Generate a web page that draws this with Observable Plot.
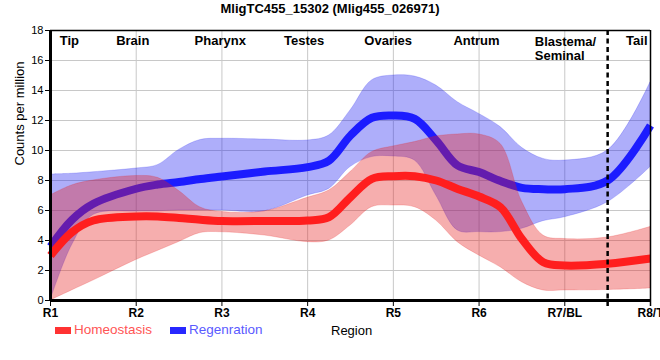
<!DOCTYPE html>
<html>
<head>
<meta charset="utf-8">
<script src="https://cdn.jsdelivr.net/npm/d3@7"></script>
<script src="https://cdn.jsdelivr.net/npm/@observablehq/plot@0.6"></script>
<style>
  html, body { margin: 0; padding: 0; background: #fff; }
  #wrap { position: relative; width: 660px; height: 360px; font-family: "Liberation Sans", Arial, sans-serif; overflow: hidden; }
  #title { position: absolute; left: 0; top: 1px; width: 660px; text-align: center; font-weight: bold; font-size: 13px; line-height: 15px; color: #000; }
  .sw { position: absolute; width: 16px; height: 7px; }
  .lg { position: absolute; font-size: 13.5px; line-height: 16px; white-space: nowrap; }
</style>
</head>
<body>
<div id="wrap">
  <div id="chart"></div>
  <div id="title">MligTC455_15302 (Mlig455_026971)</div>
  <div class="sw" style="left:55px;top:327px;background:rgb(255,50,50)"></div>
  <div class="lg" style="left:74px;top:322px;color:rgb(255,85,85)">Homeostasis</div>
  <div class="sw" style="left:170px;top:327px;background:rgb(40,40,255)"></div>
  <div class="lg" style="left:189px;top:322px;color:rgb(90,90,255)">Regenration</div>
  <div class="lg" style="left:331px;top:323px;color:#000;font-size:13px">Region</div>
</div>
<script>
// Tick labels for the eight body regions
const regionTicks = [1, 2, 3, 4, 5, 6, 7, 8];
const regionNames = ["R1", "R2", "R3", "R4", "R5", "R6", "R7/BL", "R8/T"];
const yTicks = [0, 2, 4, 6, 8, 10, 12, 14, 16, 18];

// Anatomical labels along the top
const anatomyLabels = ["Tip", "Brain", "Pharynx", "Testes", "Ovaries", "Antrum", "Tail"];
const anatomyAt = [1.22, 1.96, 2.98, 3.96, 4.94, 5.97, 7.84];
const blastemaLabel = "Blastema/\nSeminal";
const blastemaAt = 6.65;
const boundaryAt = 7.5;

// Positions read along the body (in region units)
const pos = [1, 1.25, 1.5, 2, 2.25, 2.5, 2.75, 3, 3.5, 4, 4.25, 4.5, 4.75, 5, 5.25, 5.5, 5.75, 6, 6.25, 6.5, 6.75, 7, 7.5, 8];

// Homeostasis: mean and band
const homeoMean = [3.0, 4.55, 5.33, 5.6, 5.6, 5.5, 5.38, 5.3, 5.3, 5.33, 5.56, 6.89, 8.11, 8.29, 8.29, 8.0, 7.44, 6.93, 6.22, 4.1, 2.55, 2.33, 2.45, 2.8];
const homeoLow  = [0, 0.67, 1.33, 2.7, 3.3, 3.9, 4.5, 4.55, 4.33, 3.89, 4.0, 5.0, 6.22, 6.33, 6.22, 5.33, 3.89, 3.0, 2.22, 1.22, 0.67, 0.67, 0.7, 0.8];
const homeoHigh = [7.0, 7.67, 8.0, 8.3, 8.18, 7.3, 6.2, 5.9, 5.95, 6.85, 7.33, 8.56, 9.89, 10.27, 10.56, 10.93, 11.07, 11.07, 10.44, 6.6, 4.33, 4.1, 4.2, 4.9];

// Regeneration: mean and band
const regenMean = [3.6, 5.38, 6.45, 7.45, 7.73, 7.9, 8.1, 8.27, 8.6, 8.89, 9.33, 11.0, 12.18, 12.33, 12.11, 10.67, 9.0, 8.56, 7.96, 7.51, 7.42, 7.42, 8.0, 11.67];
const regenLow  = [0, 3.67, 5.7, 5.93, 5.95, 6.0, 6.0, 6.0, 5.95, 7.0, 7.44, 8.9, 9.56, 9.6, 9.33, 7.0, 4.67, 4.56, 4.56, 4.78, 5.29, 5.55, 6.55, 8.9];
const regenHigh = [8.4, 8.45, 8.55, 8.8, 9.02, 10.04, 10.7, 10.78, 10.73, 10.67, 11.0, 12.67, 14.67, 15.0, 14.93, 14.33, 13.22, 12.44, 11.56, 10.18, 9.44, 9.33, 10.0, 14.55];

const homeo = pos.map((p, i) => ({p, m: homeoMean[i], lo: homeoLow[i], hi: homeoHigh[i]}));
const regen = pos.map((p, i) => ({p, m: regenMean[i], lo: regenLow[i], hi: regenHigh[i]}));

const curve = "catmull-rom";
const plot = Plot.plot({
  width: 660,
  height: 360,
  marginLeft: 50,
  marginRight: 10,
  marginTop: 30,
  marginBottom: 60,
  x: {domain: [1, 8]},
  y: {domain: [0, 18]},
  style: {fontFamily: "'Liberation Sans', Arial, sans-serif", fontSize: "12px", background: "white", color: "black"},
  marks: [
    Plot.gridY(yTicks.slice(1, -1), {stroke: "#c8c8c8", strokeOpacity: 1}),
    Plot.gridX(regionTicks.slice(1, -1), {stroke: "#c8c8c8", strokeOpacity: 1}),
    Plot.areaY(regen, {x: "p", y1: "lo", y2: "hi", curve, fill: "rgb(30,30,240)", fillOpacity: 0.36, stroke: "rgb(30,30,240)", strokeOpacity: 0.2}),
    Plot.line(regen, {x: "p", y: "m", curve, stroke: "rgb(28,28,255)", strokeWidth: 8, strokeLinecap: "butt"}),
    Plot.areaY(homeo, {x: "p", y1: "lo", y2: "hi", curve, fill: "rgb(230,30,30)", fillOpacity: 0.36, stroke: "rgb(230,30,30)", strokeOpacity: 0.2}),
    Plot.line(homeo, {x: "p", y: "m", curve, stroke: "rgb(255,30,30)", strokeWidth: 8, strokeLinecap: "butt"}),
    Plot.ruleX([boundaryAt], {stroke: "black", strokeWidth: 2.5, strokeDasharray: "5,3.5", insetBottom: -6}),
    Plot.ruleX([1], {stroke: "black", strokeWidth: 3}),
    Plot.ruleY([0], {stroke: "black", strokeWidth: 3}),
    Plot.ruleY([18], {stroke: "black", strokeWidth: 1.5}),
    Plot.ruleX([8], {stroke: "black", strokeWidth: 1.5, insetBottom: -6}),
    Plot.axisY(yTicks, {tickSize: 5, tickPadding: 2, fontSize: 11, label: null}),
    Plot.axisX(regionTicks, {tickSize: 6, tickPadding: 2, fontSize: 12, fontWeight: "bold", label: null, tickFormat: (d) => regionNames[regionTicks.indexOf(d)]}),
    Plot.text(anatomyLabels, {x: (d, i) => anatomyAt[i], frameAnchor: "top", lineAnchor: "top", dy: 5, text: (d) => d, fontSize: 13, fontWeight: "bold", fill: "black"}),
    Plot.text([blastemaLabel], {x: blastemaAt, frameAnchor: "top", lineAnchor: "top", dy: 5, text: (d) => d, textAnchor: "start", lineHeight: 1.1, fontSize: 13, fontWeight: "bold", fill: "black"}),
    Plot.text(["Counts per million"], {frameAnchor: "left", dx: -31, rotate: -90, text: (d) => d, fontSize: 13, fill: "black"})
  ]
});
document.getElementById("chart").appendChild(plot);
</script>
</body>
</html>
